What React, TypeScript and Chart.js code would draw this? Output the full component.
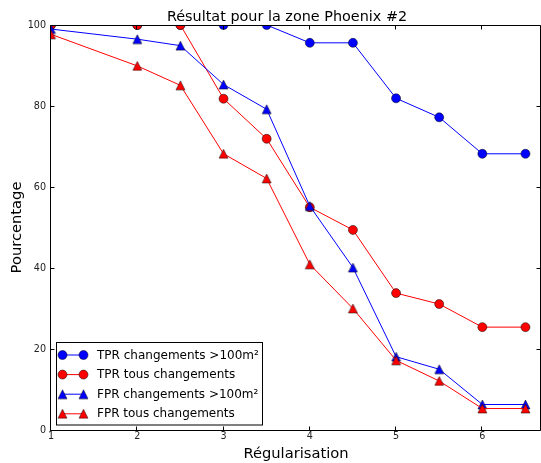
import React, { useEffect, useRef } from "react";
import { Chart, registerables } from "chart.js";

Chart.register(...registerables);

// ---- data ----
const regularisation = [1, 2, 2.5, 3, 3.5, 4, 4.5, 5, 5.5, 6, 6.5];
const tprBig = [100, 100, 100, 100, 100, 95.6, 95.6, 81.9, 77.2, 68.2, 68.2];
const tprAll = [100, 100, 100, 81.8, 71.9, 55.0, 49.4, 33.8, 31.1, 25.4, 25.4];
const fprBig = [99.0, 96.5, 94.9, 85.3, 79.2, 55.3, 40.1, 18.1, 15.0, 6.3, 6.3];
const fprAll = [97.7, 89.9, 85.1, 68.2, 62.1, 40.9, 30.0, 17.2, 12.1, 5.3, 5.3];
const seriesLabels = [
  "TPR changements >100m\u00B2",
  "TPR tous changements",
  "FPR changements >100m\u00B2",
  "FPR tous changements",
];
const xTickValues = [1, 2, 3, 4, 5, 6];
const yTickValues = [0, 20, 40, 60, 80, 100];
const chartTitle = "R\u00E9sultat pour la zone Phoenix #2";
const xTitle = "R\u00E9gularisation";
const yTitle = "Pourcentage";

const BLUE = "#0000ff";
const RED = "#ff0000";
const FONT = "'DejaVu Sans', sans-serif";

function makeTriangle(color: string): HTMLCanvasElement {
  const c = document.createElement("canvas");
  c.width = 11;
  c.height = 11;
  const g = c.getContext("2d")!;
  g.beginPath();
  g.moveTo(5.5, 1);
  g.lineTo(1, 10);
  g.lineTo(10, 10);
  g.closePath();
  g.fillStyle = color;
  g.fill();
  g.lineWidth = 0.5;
  g.strokeStyle = "#000";
  g.stroke();
  return c;
}

const framePlugin = {
  id: "frame",
  afterDatasetsDraw(chart: any) {
    const { ctx, chartArea } = chart;
    const { left, right, top, bottom } = chartArea;
    const xs = chart.scales.x;
    const ys = chart.scales.y;
    ctx.save();
    ctx.strokeStyle = "#000";
    ctx.lineWidth = 1;
    ctx.beginPath();
    const L = left - 0.5, R = right - 0.5, T = top + 0.5, B = bottom + 0.5;
    ctx.moveTo(L, T);
    ctx.lineTo(R, T);
    ctx.lineTo(R, B);
    ctx.lineTo(L, B);
    ctx.closePath();
    const tl = 4;
    xTickValues.forEach((v) => {
      const px = Math.round(xs.getPixelForValue(v)) - 0.5;
      ctx.moveTo(px, B);
      ctx.lineTo(px, B - tl);
      ctx.moveTo(px, T);
      ctx.lineTo(px, T + tl);
    });
    yTickValues.forEach((v) => {
      const py = Math.round(ys.getPixelForValue(v)) + 0.5;
      ctx.moveTo(L, py);
      ctx.lineTo(L + tl, py);
      ctx.moveTo(R, py);
      ctx.lineTo(R - tl, py);
    });
    ctx.stroke();
    ctx.restore();
  },
};

const titlePlugin = {
  id: "topTitle",
  afterDraw(chart: any) {
    const { ctx, chartArea } = chart;
    ctx.save();
    ctx.font = `14.4px ${FONT}`;
    ctx.fillStyle = "#000";
    ctx.textAlign = "center";
    ctx.textBaseline = "alphabetic";
    ctx.fillText(chartTitle, chartArea.left + 236, chartArea.top - 4.5);
    ctx.restore();
  },
};

const legendPlugin = {
  id: "boxLegend",
  afterDraw(chart: any) {
    const { ctx, chartArea } = chart;
    const x0 = chartArea.left + 6;
    const y1 = chartArea.bottom - 6;
    const w = 206;
    const h = 82.5;
    const y0 = y1 - h;
    ctx.save();
    ctx.fillStyle = "#fff";
    ctx.fillRect(x0, y0, w, h);
    ctx.strokeStyle = "#000";
    ctx.lineWidth = 1;
    ctx.strokeRect(Math.round(x0) - 0.5, Math.round(y0) + 0.5, w, h);
    ctx.font = `12px ${FONT}`;
    ctx.textBaseline = "middle";
    ctx.textAlign = "left";
    chart.data.datasets.forEach((ds: any, i: number) => {
      const cy = y0 + 13.5 + i * 19.6;
      const lx0 = x0 + 5.5;
      const lx1 = x0 + 26.5;
      ctx.strokeStyle = ds.borderColor;
      ctx.lineWidth = 1;
      ctx.beginPath();
      ctx.moveTo(lx0, cy);
      ctx.lineTo(lx1, cy);
      ctx.stroke();
      [lx0, lx1].forEach((mx) => {
        if (typeof ds.pointStyle === "string") {
          ctx.beginPath();
          ctx.arc(mx, cy, ds.pointRadius, 0, Math.PI * 2);
          ctx.fillStyle = ds.pointBackgroundColor;
          ctx.fill();
          ctx.lineWidth = ds.pointBorderWidth;
          ctx.strokeStyle = ds.pointBorderColor;
          ctx.stroke();
        } else {
          const img = ds.pointStyle as HTMLCanvasElement;
          ctx.drawImage(img, mx - img.width / 2, cy - img.height / 2);
        }
      });
      ctx.fillStyle = "#000";
      ctx.fillText(ds.label, x0 + 40, cy + 0.5);
    });
    ctx.restore();
  },
};

export default function App() {
  const ref = useRef<HTMLCanvasElement>(null);
  useEffect(() => {
    const canvas = ref.current!;
    const triBlue = makeTriangle(BLUE);
    const triRed = makeTriangle(RED);
    const pts = (ys: number[]) => regularisation.map((x, i) => ({ x, y: ys[i] }));
    const common = {
      borderWidth: 1,
      pointBorderColor: "#000",
      pointBorderWidth: 0.5,
      pointRadius: 4.5,
      pointHoverRadius: 4.5,
      clip: 0,
      tension: 0,
      fill: false,
    };
    const chart = new Chart(canvas, {
      type: "line",
      data: {
        datasets: [
          { ...common, label: seriesLabels[0], data: pts(tprBig), borderColor: BLUE, backgroundColor: BLUE, pointBackgroundColor: BLUE, pointStyle: "circle", order: 4 },
          { ...common, label: seriesLabels[1], data: pts(tprAll), borderColor: RED, backgroundColor: RED, pointBackgroundColor: RED, pointStyle: "circle", order: 3 },
          { ...common, label: seriesLabels[2], data: pts(fprBig), borderColor: BLUE, backgroundColor: BLUE, pointBackgroundColor: BLUE, pointStyle: triBlue, order: 2 },
          { ...common, label: seriesLabels[3], data: pts(fprAll), borderColor: RED, backgroundColor: RED, pointBackgroundColor: RED, pointStyle: triRed, order: 1 },
        ] as any,
      },
      options: {
        animation: false,
        responsive: false,
        devicePixelRatio: 1,
        events: [],
        font: { family: FONT },
        layout: { autoPadding: false, padding: { top: 25, left: 0, right: 0, bottom: 0 } },
        plugins: {
          legend: { display: false },
          title: { display: false },
          tooltip: { enabled: false },
        },
        scales: {
          x: {
            type: "linear",
            min: 1,
            max: 6.68,
            afterBuildTicks: (s: any) => {
              s.ticks = xTickValues.map((v) => ({ value: v }));
            },
            afterFit: (s: any) => {
              s.height = 33;
            },
            grid: { display: false, drawTicks: false },
            border: { display: false },
            ticks: { padding: 1, color: "#222", font: { family: FONT, size: 9.6 }, maxRotation: 0, autoSkip: false },
            title: { display: true, text: xTitle, color: "#000", font: { family: FONT, size: 14.7 }, padding: { top: 2.2, bottom: 0 } },
          },
          y: {
            type: "linear",
            min: 0,
            max: 100,
            afterBuildTicks: (s: any) => {
              s.ticks = yTickValues.map((v) => ({ value: v }));
            },
            afterFit: (s: any) => {
              s.width = 51;
            },
            grid: { display: false, drawTicks: false },
            border: { display: false },
            ticks: { padding: 5, color: "#222", font: { family: FONT, size: 9.6 }, autoSkip: false },
            title: { display: true, text: yTitle, color: "#000", font: { family: FONT, size: 14.7 }, padding: { top: 8, bottom: 0 } },
          },
        },
      } as any,
      plugins: [framePlugin, titlePlugin, legendPlugin],
    });
    return () => chart.destroy();
  }, []);
  return (
    <div style={{ position: "fixed", left: 0, top: 0, width: 541, height: 463, background: "#fff" }}>
      <canvas ref={ref} width={541} height={463} style={{ display: "block", width: 541, height: 463 }} />
    </div>
  );
}
